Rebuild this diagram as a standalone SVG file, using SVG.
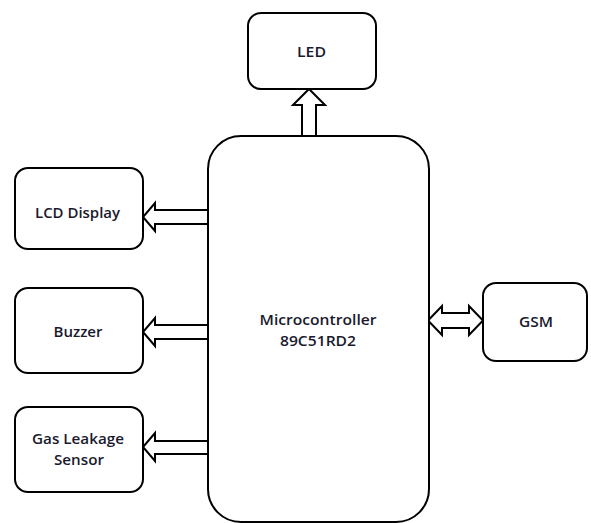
<svg xmlns="http://www.w3.org/2000/svg" width="591" height="523" viewBox="0 0 591 523">
<style>
.box{fill:#fff;stroke:#000;stroke-width:2}
.arr{fill:#fff;stroke:#000;stroke-width:2;stroke-linejoin:miter}
.t{font-family:"Open Sans","Liberation Sans",sans-serif;font-size:14px;font-weight:600;fill:#1a1a2e;text-anchor:middle}
</style>
<rect width="591" height="523" fill="#fff"/>
<g id="connectors">
<path class="arr" d="M302,136 V105 H293 L309,89 L325,105 H316 V136"/>
<path class="arr" d="M208,210 H155 V203 L143,217 L155,231 V224 H208"/>
<path class="arr" d="M208,325 H155 V318 L143,332 L155,346 V339 H208"/>
<path class="arr" d="M208,441 H155 V433 L143,447 L155,461 V454 H208"/>
<path class="arr" d="M442,313 V306 L428,320.5 L442,335 V328 H469 V335 L483,320.5 L469,306 V313 Z"/>
</g>
<g id="mcu">
<rect class="box" x="208" y="136" width="221" height="386" rx="33"/>
<text class="t" x="318" y="325" textLength="117" lengthAdjust="spacingAndGlyphs">Microcontroller</text>
<text class="t" x="318" y="346" textLength="76" lengthAdjust="spacingAndGlyphs">89C51RD2</text>
</g>
<g id="led">
<rect class="box" x="248" y="13" width="128" height="76" rx="13"/>
<text class="t" x="311.5" y="57" textLength="29" lengthAdjust="spacingAndGlyphs">LED</text>
</g>
<g id="lcd">
<rect class="box" x="15" y="168" width="128" height="81" rx="13"/>
<text class="t" x="77.5" y="218" textLength="85" lengthAdjust="spacingAndGlyphs">LCD Display</text>
</g>
<g id="buzzer">
<rect class="box" x="15" y="288" width="128" height="85" rx="13"/>
<text class="t" x="78" y="337" textLength="49" lengthAdjust="spacingAndGlyphs">Buzzer</text>
</g>
<g id="gas">
<rect class="box" x="15" y="407" width="128" height="85" rx="13"/>
<text class="t" x="78" y="444" textLength="92" lengthAdjust="spacingAndGlyphs">Gas Leakage</text>
<text class="t" x="79" y="465" textLength="50" lengthAdjust="spacingAndGlyphs">Sensor</text>
</g>
<g id="gsm">
<rect class="box" x="483" y="283" width="104" height="78" rx="13"/>
<text class="t" x="536" y="327" textLength="34" lengthAdjust="spacingAndGlyphs">GSM</text>
</g>
</svg>
